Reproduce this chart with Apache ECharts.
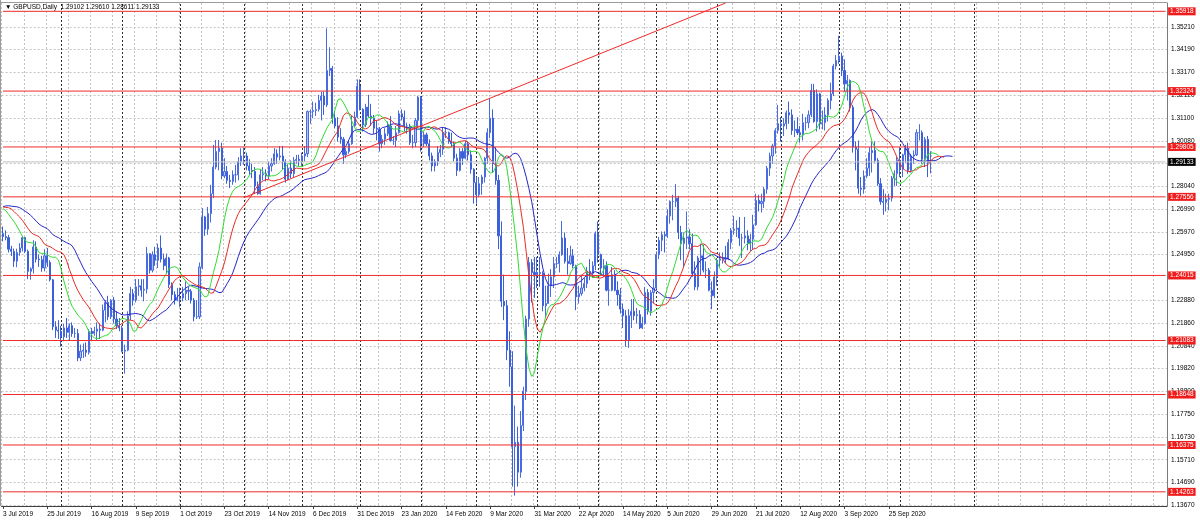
<!DOCTYPE html>
<html><head><meta charset="utf-8">
<script src="https://cdn.jsdelivr.net/npm/echarts@6/dist/echarts.min.js"></script>
<style>html,body{margin:0;padding:0;background:#fff;}#c{width:1200px;height:523px;}</style>
</head><body><div id="c"></div>
<script>
// ---- tick labels / categories ----
const dateLabels = ['3 Jul 2019','25 Jul 2019','16 Aug 2019','9 Sep 2019','1 Oct 2019','23 Oct 2019','14 Nov 2019','6 Dec 2019','31 Dec 2019','23 Jan 2020','14 Feb 2020','9 Mar 2020','31 Mar 2020','22 Apr 2020','14 May 2020','5 Jun 2020','29 Jun 2020','21 Jul 2020','12 Aug 2020','3 Sep 2020','25 Sep 2020'];
const labelEvery = 16;           // bars between time labels
const gridEvery = 8;             // bars between vertical grid lines
const slotCount = 421;           // bar slots across the chart (incl. chart shift)
const monthStarts = [21,43,64,87,108,129,151,171,193,215,236,258,281,302,324,351];
const priceTicks = [1.13670,1.14690,1.15710,1.16730,1.17750,1.18800,1.19820,1.20840,1.21860,1.22880,1.24950,1.25970,1.26990,1.28040,1.29060,1.30080,1.31100,1.32120,1.33170,1.34190,1.35210];
const levels = [1.35918,1.32324,1.29805,1.27556,1.24015,1.21083,1.18648,1.16375,1.14263];
const bidPrice = 1.29133;
const trendStart = [87, 1.2752];
const trendEnd = [261, 1.3629];
// median prices of the bars before 3 Jul 2019 (feed the Alligator lines at the left edge)
const warmupMedians = [1.2730,1.2760,1.2770,1.2790,1.2750,1.2760,1.2740,1.2720,1.2670,1.2600,1.2560,1.2640,1.2720,1.2750,1.2750,1.2730,1.2690,1.2690,1.2700,1.2660,1.2610];

// ---- daily bars [open, high, low, close] ----
const jul2019 = [[1.2590,1.2622,1.2555,1.2577],[1.2577,1.2605,1.2560,1.2572],[1.2572,1.2584,1.2505,1.2520],[1.2520,1.2535,1.2489,1.2510],[1.2510,1.2523,1.2440,1.2466],[1.2466,1.2522,1.2439,1.2505],[1.2505,1.2547,1.2490,1.2525],[1.2525,1.2580,1.2510,1.2572],[1.2572,1.2575,1.2502,1.2510],[1.2510,1.2518,1.2385,1.2420],[1.2420,1.2438,1.2382,1.2432],[1.2432,1.2560,1.2410,1.2530],[1.2530,1.2555,1.2460,1.2475],[1.2475,1.2495,1.2440,1.2472],[1.2472,1.2490,1.2418,1.2435],[1.2435,1.2520,1.2420,1.2490],[1.2490,1.2525,1.2440,1.2460],[1.2460,1.2470,1.2375,1.2382],[1.2382,1.2385,1.2155,1.2170],[1.2170,1.2195,1.2120,1.2155],[1.2155,1.2200,1.2115,1.2150]];
const aug2019 = [[1.2150,1.2175,1.2080,1.2125],[1.2125,1.2183,1.2105,1.2165],[1.2165,1.2210,1.2120,1.2145],[1.2145,1.2185,1.2110,1.2175],[1.2175,1.2190,1.2125,1.2140],[1.2140,1.2165,1.2120,1.2140],[1.2140,1.2160,1.2015,1.2030],[1.2030,1.2090,1.2016,1.2060],[1.2060,1.2095,1.2030,1.2065],[1.2065,1.2100,1.2035,1.2055],[1.2055,1.2160,1.2045,1.2150],[1.2150,1.2165,1.2105,1.2140],[1.2140,1.2170,1.2130,1.2150],[1.2150,1.2190,1.2110,1.2160],[1.2160,1.2185,1.2115,1.2155],[1.2155,1.2270,1.2150,1.2245],[1.2245,1.2290,1.2190,1.2280],[1.2280,1.2310,1.2200,1.2215],[1.2215,1.2295,1.2205,1.2290],[1.2290,1.2305,1.2185,1.2205],[1.2205,1.2240,1.2160,1.2175],[1.2175,1.2210,1.2150,1.2165]];
const sep2019 = [[1.2165,1.2175,1.2055,1.2060],[1.2060,1.2090,1.1959,1.2065],[1.2065,1.2240,1.2060,1.2220],[1.2220,1.2350,1.2200,1.2320],[1.2320,1.2340,1.2265,1.2290],[1.2290,1.2385,1.2280,1.2350],[1.2350,1.2385,1.2310,1.2355],[1.2355,1.2385,1.2305,1.2335],[1.2335,1.2385,1.2285,1.2340],[1.2340,1.2530,1.2320,1.2500],[1.2500,1.2500,1.2410,1.2425],[1.2425,1.2510,1.2415,1.2495],[1.2495,1.2530,1.2445,1.2470],[1.2470,1.2545,1.2435,1.2525],[1.2525,1.2582,1.2460,1.2475],[1.2475,1.2500,1.2425,1.2445],[1.2445,1.2500,1.2410,1.2480],[1.2480,1.2485,1.2345,1.2360],[1.2360,1.2370,1.2290,1.2315],[1.2315,1.2330,1.2270,1.2290],[1.2290,1.2345,1.2285,1.2295]];
const oct2019 = [[1.2295,1.2345,1.2260,1.2300],[1.2300,1.2350,1.2285,1.2320],[1.2320,1.2375,1.2290,1.2335],[1.2335,1.2350,1.2290,1.2330],[1.2330,1.2340,1.2275,1.2290],[1.2290,1.2300,1.2195,1.2215],[1.2215,1.2290,1.2205,1.2215],[1.2215,1.2460,1.2205,1.2440],[1.2440,1.2705,1.2430,1.2665],[1.2665,1.2670,1.2580,1.2610],[1.2610,1.2710,1.2585,1.2680],[1.2680,1.2810,1.2640,1.2770],[1.2770,1.2990,1.2750,1.2890],[1.2890,1.3012,1.2880,1.2960],[1.2960,1.3012,1.2875,1.2975],[1.2975,1.3000,1.2835,1.2850],[1.2850,1.2930,1.2840,1.2870],[1.2870,1.2895,1.2815,1.2830],[1.2830,1.2855,1.2795,1.2825],[1.2825,1.2875,1.2810,1.2855],[1.2855,1.2900,1.2820,1.2855],[1.2855,1.2935,1.2830,1.2915],[1.2915,1.2975,1.2895,1.2940]];
const nov2019 = [[1.2940,1.2978,1.2900,1.2940],[1.2940,1.2955,1.2875,1.2895],[1.2895,1.2925,1.2855,1.2875],[1.2875,1.2905,1.2840,1.2870],[1.2870,1.2890,1.2770,1.2805],[1.2805,1.2825,1.2765,1.2770],[1.2770,1.2880,1.2765,1.2855],[1.2855,1.2890,1.2830,1.2860],[1.2860,1.2880,1.2825,1.2850],[1.2850,1.2915,1.2835,1.2895],[1.2895,1.2930,1.2870,1.2905],[1.2905,1.2975,1.2900,1.2950],[1.2950,1.2970,1.2905,1.2935],[1.2935,1.2985,1.2920,1.2940],[1.2940,1.2985,1.2880,1.2915],[1.2915,1.2925,1.2820,1.2835],[1.2835,1.2905,1.2830,1.2885],[1.2885,1.2920,1.2840,1.2860],[1.2860,1.2935,1.2845,1.2920],[1.2920,1.2945,1.2905,1.2925],[1.2925,1.2945,1.2895,1.2920]];
const dec2019 = [[1.2920,1.2955,1.2895,1.2940],[1.2940,1.2985,1.2915,1.2950],[1.2950,1.3145,1.2935,1.3140],[1.3140,1.3150,1.3085,1.3140],[1.3140,1.3185,1.3110,1.3145],[1.3145,1.3180,1.3120,1.3150],[1.3150,1.3215,1.3140,1.3190],[1.3190,1.3230,1.3100,1.3210],[1.3210,1.3230,1.3125,1.3170],[1.3170,1.3515,1.3160,1.3325],[1.3325,1.3430,1.3300,1.3335],[1.3335,1.3345,1.3085,1.3110],[1.3110,1.3145,1.3065,1.3075],[1.3075,1.3115,1.3005,1.3025],[1.3025,1.3065,1.2995,1.3015],[1.3015,1.3025,1.2905,1.2945],[1.2945,1.2975,1.2930,1.2960],[1.2960,1.3010,1.2950,1.2995],[1.2995,1.3120,1.2990,1.3075],[1.3075,1.3140,1.3070,1.3115],[1.3115,1.3285,1.3110,1.3255]];
const jan2020 = [[1.3255,1.3285,1.3145,1.3150],[1.3150,1.3155,1.3050,1.3080],[1.3080,1.3175,1.3070,1.3160],[1.3160,1.3215,1.3115,1.3120],[1.3120,1.3175,1.3075,1.3110],[1.3110,1.3125,1.3040,1.3065],[1.3065,1.3100,1.3010,1.3060],[1.3060,1.3070,1.2960,1.2995],[1.2995,1.3035,1.2975,1.3015],[1.3015,1.3065,1.2990,1.3040],[1.3040,1.3095,1.3030,1.3075],[1.3075,1.3120,1.3005,1.3010],[1.3010,1.3030,1.2990,1.3010],[1.3010,1.3075,1.2980,1.3045],[1.3045,1.3145,1.3040,1.3130],[1.3130,1.3150,1.3100,1.3115],[1.3115,1.3145,1.3050,1.3075],[1.3075,1.3090,1.3040,1.3075],[1.3075,1.3085,1.2990,1.3000],[1.3000,1.3035,1.2975,1.3000],[1.3000,1.3110,1.2980,1.3100],[1.3100,1.3210,1.3075,1.3205]];
const feb2020 = [[1.3205,1.3210,1.2960,1.2995],[1.2995,1.3050,1.2980,1.3035],[1.3035,1.3045,1.2985,1.2995],[1.2995,1.3015,1.2920,1.2940],[1.2940,1.2955,1.2870,1.2895],[1.2895,1.2925,1.2870,1.2915],[1.2915,1.2985,1.2895,1.2955],[1.2955,1.2990,1.2935,1.2970],[1.2970,1.3070,1.2945,1.3045],[1.3045,1.3070,1.3020,1.3045],[1.3045,1.3050,1.2995,1.3005],[1.3005,1.3045,1.2980,1.2995],[1.2995,1.3005,1.2915,1.2930],[1.2930,1.2950,1.2850,1.2875],[1.2875,1.2975,1.2870,1.2960],[1.2960,1.2975,1.2900,1.2930],[1.2930,1.3010,1.2925,1.2995],[1.2995,1.3005,1.2920,1.2945],[1.2945,1.2965,1.2860,1.2880],[1.2880,1.2885,1.2725,1.2820]];
const mar2020 = [[1.2820,1.2845,1.2725,1.2765],[1.2765,1.2845,1.2755,1.2815],[1.2815,1.2855,1.2765,1.2845],[1.2845,1.2935,1.2820,1.2930],[1.2930,1.3065,1.2905,1.3045],[1.3045,1.3200,1.3020,1.3110],[1.3110,1.3150,1.2865,1.2905],[1.2905,1.2980,1.2810,1.2830],[1.2830,1.2855,1.2520,1.2580],[1.2580,1.2645,1.2260,1.2285],[1.2285,1.2405,1.2200,1.2265],[1.2265,1.2290,1.2020,1.2065],[1.2065,1.2150,1.1900,1.1990],[1.1990,1.2060,1.1450,1.1630],[1.1630,1.1815,1.1409,1.1650],[1.1650,1.1720,1.1450,1.1515],[1.1515,1.1790,1.1490,1.1725],[1.1725,1.1900,1.1700,1.1880],[1.1880,1.2220,1.1840,1.2205],[1.2205,1.2485,1.2170,1.2460],[1.2460,1.2475,1.2280,1.2415],[1.2415,1.2485,1.2300,1.2405]];
const apr2020 = [[1.2405,1.2485,1.2345,1.2415],[1.2415,1.2485,1.2350,1.2410],[1.2410,1.2420,1.2240,1.2265],[1.2265,1.2355,1.2210,1.2275],[1.2275,1.2410,1.2275,1.2355],[1.2355,1.2430,1.2305,1.2395],[1.2395,1.2485,1.2345,1.2455],[1.2455,1.2485,1.2435,1.2455],[1.2455,1.2510,1.2415,1.2495],[1.2495,1.2647,1.2490,1.2570],[1.2570,1.2595,1.2455,1.2465],[1.2465,1.2525,1.2405,1.2455],[1.2455,1.2535,1.2450,1.2490],[1.2490,1.2520,1.2435,1.2445],[1.2445,1.2450,1.2245,1.2305],[1.2305,1.2355,1.2275,1.2320],[1.2320,1.2405,1.2310,1.2345],[1.2345,1.2390,1.2330,1.2365],[1.2365,1.2440,1.2345,1.2420],[1.2420,1.2475,1.2380,1.2410],[1.2410,1.2465,1.2390,1.2445],[1.2445,1.2600,1.2425,1.2590]];
const may2020 = [[1.2590,1.2645,1.2460,1.2495],[1.2495,1.2500,1.2400,1.2435],[1.2435,1.2475,1.2395,1.2445],[1.2445,1.2465,1.2330,1.2335],[1.2335,1.2400,1.2265,1.2335],[1.2335,1.2440,1.2330,1.2405],[1.2405,1.2425,1.2330,1.2335],[1.2335,1.2375,1.2265,1.2315],[1.2315,1.2345,1.2230,1.2250],[1.2250,1.2275,1.2165,1.2220],[1.2220,1.2245,1.2080,1.2110],[1.2110,1.2250,1.2075,1.2220],[1.2220,1.2295,1.2165,1.2240],[1.2240,1.2295,1.2200,1.2220],[1.2220,1.2255,1.2185,1.2225],[1.2225,1.2245,1.2160,1.2165],[1.2165,1.2215,1.2160,1.2185],[1.2185,1.2350,1.2180,1.2325],[1.2325,1.2340,1.2225,1.2240],[1.2240,1.2335,1.2220,1.2325],[1.2325,1.2385,1.2275,1.2345]];
const jun2020 = [[1.2345,1.2510,1.2340,1.2495],[1.2495,1.2575,1.2475,1.2560],[1.2560,1.2600,1.2510,1.2585],[1.2585,1.2600,1.2505,1.2580],[1.2580,1.2700,1.2570,1.2670],[1.2670,1.2740,1.2635,1.2735],[1.2735,1.2765,1.2650,1.2735],[1.2735,1.2813,1.2710,1.2750],[1.2750,1.2760,1.2565,1.2595],[1.2595,1.2625,1.2470,1.2545],[1.2545,1.2595,1.2440,1.2570],[1.2570,1.2690,1.2520,1.2575],[1.2575,1.2610,1.2520,1.2545],[1.2545,1.2590,1.2395,1.2410],[1.2410,1.2465,1.2335,1.2350],[1.2350,1.2490,1.2335,1.2480],[1.2480,1.2545,1.2400,1.2490],[1.2490,1.2540,1.2415,1.2425],[1.2425,1.2465,1.2390,1.2425],[1.2425,1.2435,1.2330,1.2335],[1.2335,1.2375,1.2250,1.2310],[1.2310,1.2420,1.2300,1.2395]];
const jul2020 = [[1.2395,1.2480,1.2355,1.2470],[1.2470,1.2505,1.2440,1.2475],[1.2475,1.2505,1.2455,1.2480],[1.2480,1.2535,1.2455,1.2475],[1.2475,1.2565,1.2470,1.2550],[1.2550,1.2615,1.2520,1.2605],[1.2605,1.2670,1.2585,1.2610],[1.2610,1.2650,1.2575,1.2615],[1.2615,1.2665,1.2535,1.2570],[1.2570,1.2590,1.2480,1.2570],[1.2570,1.2665,1.2545,1.2580],[1.2580,1.2605,1.2515,1.2545],[1.2545,1.2590,1.2510,1.2565],[1.2565,1.2675,1.2520,1.2630],[1.2630,1.2770,1.2625,1.2740],[1.2740,1.2765,1.2690,1.2725],[1.2725,1.2770,1.2685,1.2735],[1.2735,1.2800,1.2705,1.2790],[1.2790,1.2895,1.2770,1.2885],[1.2885,1.2955,1.2850,1.2940],[1.2940,1.2995,1.2905,1.2985],[1.2985,1.3065,1.2950,1.3055],[1.3055,1.3170,1.3040,1.3085]];
const aug2020 = [[1.3085,1.3115,1.3005,1.3075],[1.3075,1.3110,1.3030,1.3085],[1.3085,1.3145,1.3060,1.3135],[1.3135,1.3185,1.3085,1.3125],[1.3125,1.3150,1.3035,1.3055],[1.3055,1.3100,1.3025,1.3060],[1.3060,1.3115,1.3035,1.3045],[1.3045,1.3075,1.3000,1.3035],[1.3035,1.3130,1.3010,1.3090],[1.3090,1.3115,1.3055,1.3090],[1.3090,1.3145,1.3065,1.3125],[1.3125,1.3265,1.3115,1.3235],[1.3235,1.3265,1.3090,1.3095],[1.3095,1.3240,1.3050,1.3220],[1.3220,1.3225,1.3060,1.3085],[1.3085,1.3145,1.3060,1.3090],[1.3090,1.3160,1.3055,1.3125],[1.3125,1.3200,1.3095,1.3190],[1.3190,1.3270,1.3150,1.3220],[1.3220,1.3355,1.3210,1.3345],[1.3345,1.3395,1.3330,1.3370]];
const sep2020 = [[1.3370,1.3482,1.3355,1.3390],[1.3390,1.3405,1.3300,1.3325],[1.3325,1.3375,1.3230,1.3265],[1.3265,1.3305,1.3190,1.3280],[1.3280,1.3285,1.3140,1.3160],[1.3160,1.3170,1.2955,1.2980],[1.2980,1.3005,1.2875,1.2970],[1.2970,1.3010,1.2770,1.2795],[1.2795,1.2845,1.2760,1.2790],[1.2790,1.2875,1.2770,1.2850],[1.2850,1.2930,1.2840,1.2885],[1.2885,1.2980,1.2850,1.2955],[1.2955,1.3005,1.2865,1.2965],[1.2965,1.3005,1.2910,1.2920],[1.2920,1.2930,1.2805,1.2815],[1.2815,1.2840,1.2720,1.2735],[1.2735,1.2790,1.2675,1.2730],[1.2730,1.2770,1.2690,1.2745],[1.2745,1.2770,1.2695,1.2750],[1.2750,1.2850,1.2735,1.2840],[1.2840,1.2875,1.2805,1.2860],[1.2860,1.2935,1.2805,1.2920]];
const oct2020 = [[1.2920,1.2980,1.2845,1.2880],[1.2880,1.2950,1.2845,1.2945],[1.2945,1.2990,1.2910,1.2975],[1.2975,1.3000,1.2860,1.2875],[1.2875,1.2950,1.2865,1.2940],[1.2940,1.2965,1.2905,1.2945],[1.2945,1.3060,1.2940,1.3045],[1.3045,1.3083,1.3010,1.3045],[1.3045,1.3055,1.2905,1.2925],[1.2925,1.3025,1.2890,1.3015],[1.3015,1.3030,1.2845,1.2910],[1.29102,1.29610,1.28611,1.29133]];

const months = [jul2019,aug2019,sep2019,oct2019,nov2019,dec2019,jan2020,feb2020,mar2020,apr2020,may2020,jun2020,jul2020,aug2020,sep2020,oct2020];
const bars = [].concat(...months);

// ECharts candlestick wants [open, close, low, high]
const candleData = bars.map(b => [b[0], b[3], b[2], b[1]]);

// Bill Williams Alligator (smoothed MA of the median price, shifted forward) computed from the bars above
const medians = warmupMedians.concat(bars.map(b => (b[1] + b[2]) / 2));
const W = warmupMedians.length;
function smma(src, n) {
  const out = new Array(src.length).fill(null);
  let s = 0;
  for (let i = 0; i < src.length; i++) {
    if (i < n - 1) { s += src[i]; continue; }
    if (i === n - 1) { s += src[i]; out[i] = s / n; }
    else out[i] = (out[i - 1] * (n - 1) + src[i]) / n;
  }
  return out;
}
function alligatorLine(n, shift) {
  const sm = smma(medians, n);
  const res = [];
  for (let j = 0; j < bars.length + shift; j++) {
    const k = j - shift + W;
    res.push(k >= 0 && k < sm.length && sm[k] != null ? +sm[k].toFixed(5) : null);
  }
  return res;
}
const jaw = alligatorLine(13, 8);
const teeth = alligatorLine(8, 5);
const lips = alligatorLine(5, 3);

const categories = Array.from({length: slotCount}, (_, i) => String(i));
const isLabelIdx = i => i % labelEvery === 0 && i / labelEvery < dateLabels.length;
const FONT = 'Liberation Sans';
const lastSlot = slotCount - 1;

function levelSeries(v, lineColor, boxColor) {
  return {
    type: 'line', silent: true, z: 6, symbol: 'none', animation: false,
    data: [[0, v], [lastSlot, v]],
    lineStyle: {color: lineColor, width: 1},
    endLabel: {
      show: true, formatter: v.toFixed(5), distance: 2.5,
      color: '#fff', backgroundColor: boxColor, padding: [1, 2, 0, 2],
      fontSize: 6.5, fontFamily: FONT, lineHeight: 7
    }
  };
}

const chart = echarts.init(document.getElementById('c'), null, {renderer: 'canvas'});
chart.setOption({
  animation: false,
  backgroundColor: '#ffffff',
  title: {
    text: '\u25BC GBPUSD,Daily  1.29102 1.29610 1.28611 1.29133',
    left: 5, top: 4, padding: 0,
    textStyle: {fontSize: 6.5, fontWeight: 'normal', fontFamily: FONT, color: '#000'}
  },
  graphic: [
    {type: 'line', shape: {x1: 0.5, y1: 0, x2: 0.5, y2: 506}, style: {stroke: '#9a9a9a', lineWidth: 1}, silent: true},
    {type: 'line', shape: {x1: 0, y1: 2.5, x2: 1167, y2: 2.5}, style: {stroke: '#9a9a9a', lineWidth: 1}, silent: true}
  ],
  grid: {left: 1, right: 33, top: 3, bottom: 17, containLabel: false},
  xAxis: {
    type: 'category',
    data: categories,
    boundaryGap: true,
    axisLine: {show: true, lineStyle: {color: '#404040', width: 1}},
    axisTick: {show: true, alignWithLabel: true, length: 3, interval: (i) => isLabelIdx(i), lineStyle: {color: '#404040'}},
    axisLabel: {
      show: true, interval: (i) => isLabelIdx(i),
      formatter: (v, i) => dateLabels[i / labelEvery] || '',
      align: 'left', margin: 5, fontSize: 6.5, fontFamily: FONT, color: '#000'
    },
    splitLine: {show: true, interval: (i) => i % gridEvery === 0, lineStyle: {color: '#c4c4c4', type: [2, 2], width: 1}}
  },
  yAxis: {
    type: 'value', position: 'right', scale: true,
    min: 1.13625, max: 1.36293,
    axisLine: {show: true, lineStyle: {color: '#7a7a7a', width: 1}},
    axisTick: {show: false}, axisLabel: {show: false}, splitLine: {show: false}
  },
  series: [
    {
      name: 'grid', type: 'line', data: [], silent: true, z: 1,
      markLine: {
        silent: true, symbol: 'none', z: 1, animation: false, precision: 5,
        lineStyle: {color: '#c4c4c4', type: [2, 2], width: 1},
        label: {show: true, position: 'end', distance: 4, color: '#000', fontSize: 6.5, fontFamily: FONT},
        data: priceTicks.map(v => ({yAxis: v, label: {formatter: v.toFixed(5)}}))
      }
    },
    {
      name: 'separators', type: 'line', data: [], silent: true, z: 1,
      markLine: {
        silent: true, symbol: 'none', z: 1, animation: false, precision: 5,
        lineStyle: {color: '#303030', type: [2, 2], width: 1},
        label: {show: false},
        data: monthStarts.map(i => ({xAxis: i}))
      }
    },
    {
      name: 'GBPUSD', type: 'candlestick', z: 3,
      data: candleData,
      barWidth: 1.6,
      itemStyle: {color: '#b0c2f2', color0: '#3c60da', borderColor: '#4a6be0', borderColor0: '#3c60da', borderWidth: 1}
    },
    {name: 'Jaw', type: 'line', data: jaw, symbol: 'none', z: 4, lineStyle: {color: '#2626c8', width: 1}},
    {name: 'Teeth', type: 'line', data: teeth, symbol: 'none', z: 4, lineStyle: {color: '#e82c24', width: 1}},
    {name: 'Lips', type: 'line', data: lips, symbol: 'none', z: 4, lineStyle: {color: '#30dc30', width: 1}},
    levelSeries(bidPrice, '#c0c0c0', '#000000'),
    ...levels.map(v => levelSeries(v, '#f02a2a', '#f01c1c')),
    {
      name: 'trend', type: 'line', silent: true, z: 6, symbol: 'none',
      data: [trendStart, trendEnd],
      lineStyle: {color: '#f02a2a', width: 1}
    }
  ]
});
</script>
</body></html>
